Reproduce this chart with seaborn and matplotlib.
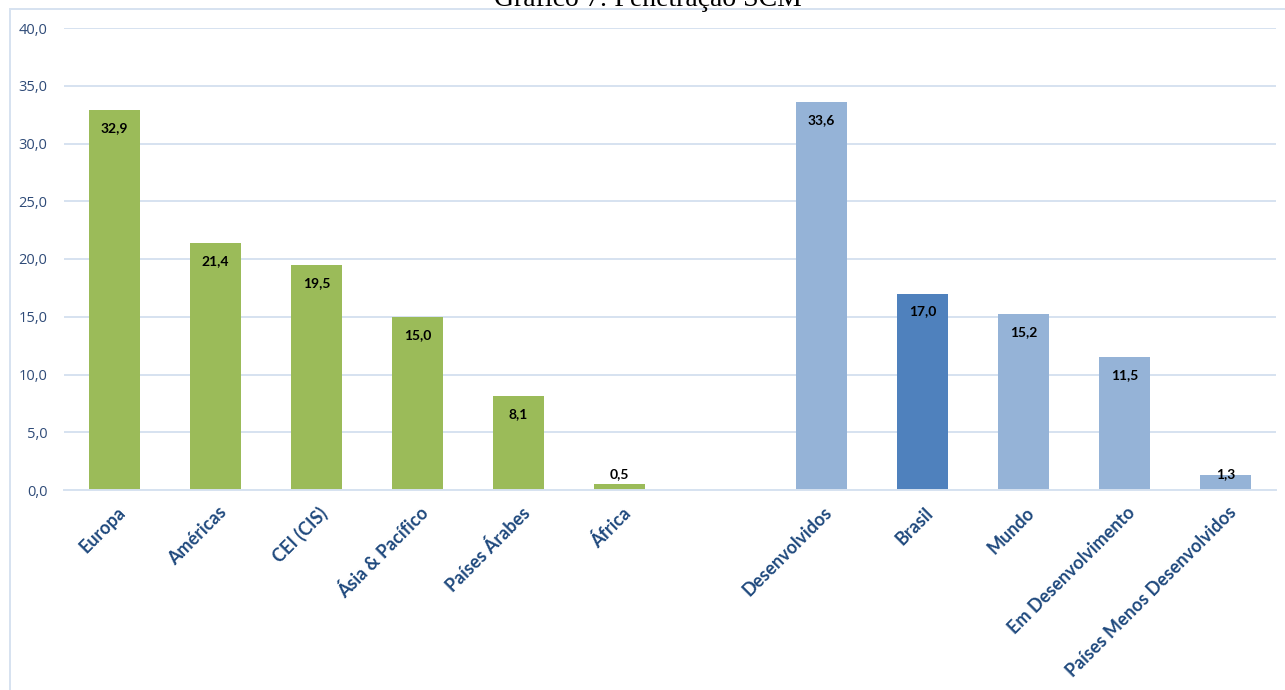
import matplotlib
matplotlib.use("Agg")
import matplotlib.pyplot as plt
import matplotlib.transforms as mtransforms
from matplotlib.patches import Rectangle
import seaborn as sns
import pandas as pd

# ---- data ----
regions = ["Europa", "Américas", "CEI (CIS)", "Ásia & Pacífico", "Países Árabes", "África"]
region_values = [32.9, 21.4, 19.5, 15.0, 8.1, 0.5]
groups = ["Desenvolvidos", "Brasil", "Mundo", "Em Desenvolvimento", "Países Menos Desenvolvidos"]
group_values = [33.6, 17.0, 15.2, 11.5, 1.3]
gap_label = " "
title = "Gráfico 7: Penetração SCM"
y_ticks = [0, 5, 10, 15, 20, 25, 30, 35, 40]

order = regions + [gap_label] + groups
kinds = ["Regiões"] * len(regions) + ["Brasil" if g == "Brasil" else "Grupos" for g in groups]
df = pd.DataFrame({
    "cat": regions + groups,
    "val": region_values + group_values,
    "tipo": kinds,
})
palette = {"Regiões": "#9BBB59", "Grupos": "#95B3D7", "Brasil": "#4F81BD"}

sns.set_theme(style="white")
plt.rcParams["font.family"] = ["Lato", "DejaVu Sans"]

W, H = 1285, 690
fig = plt.figure(figsize=(W / 100, H / 100), dpi=100)
ax = fig.add_axes([64 / W, 1 - 490 / H, (1276 - 64) / W, (490 - 28) / H])

sns.barplot(data=df, x="cat", y="val", hue="tipo", order=order, palette=palette,
            width=0.5, dodge=False, legend=False, ax=ax, saturation=1, linewidth=0)

ax.set_ylim(0, 40)
ax.set_xlim(-0.5, len(order) - 0.5)
ax.set_yticks(y_ticks)
ax.set_yticklabels([f"{t:.1f}".replace(".", ",") for t in y_ticks],
                   color="#2F4B78", fontsize=10.5, family=["Open Sans", "DejaVu Sans"])
ax.yaxis.grid(True, color="#D6E2F0", linewidth=1.4)
ax.set_axisbelow(True)
for s in ["top", "right", "left"]:
    ax.spines[s].set_visible(False)
ax.spines["bottom"].set_color("#D6E2F0")
ax.spines["bottom"].set_linewidth(1.4)
ax.tick_params(axis="y", length=0, pad=12)
ax.tick_params(axis="x", length=0, pad=10)
ax.set_xlabel("")
ax.set_ylabel("")

ax.set_xticks(range(len(order)))
labels = ax.set_xticklabels(order, rotation=45, ha="right", va="top",
                            rotation_mode="anchor", fontsize=13,
                            fontweight="bold", color="#1F497D")
offset = mtransforms.ScaledTranslation(2 / 100, 0, fig.dpi_scale_trans)
for lab in labels:
    lab.set_transform(lab.get_transform() + offset)

# value labels
vals = dict(zip(df["cat"], df["val"]))
for i, c in enumerate(order):
    if c not in vals:
        continue
    v = vals[c]
    ypos = max(v - 1.55, 1.4)
    ax.text(i, ypos, f"{v:.1f}".replace(".", ","), ha="center", va="center",
            fontsize=10, fontweight="bold", color="black")

# frame and title
fig.add_artist(Rectangle((10 / W, -0.1), 1.2, 1 - 9 / H + 0.1, transform=fig.transFigure,
                         fill=False, edgecolor="#D6E2F0", linewidth=1.4))
fig.text(648 / W, 1 - 6 / H, title, ha="center", va="baseline",
         fontsize=20, family=["Liberation Serif", "DejaVu Serif"], color="black")

fig.savefig("out.png", dpi=100, facecolor="white")
